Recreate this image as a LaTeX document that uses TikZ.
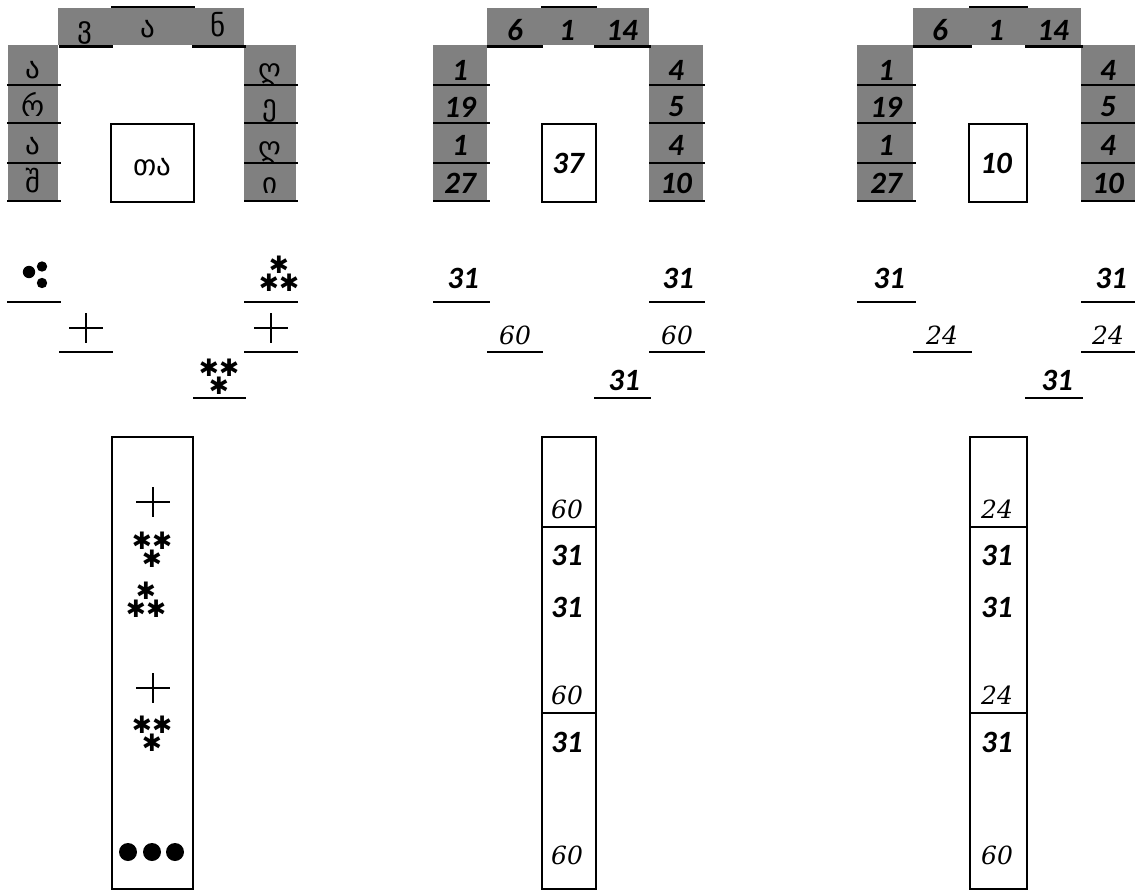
\documentclass[tikz,border=0pt]{standalone}
\usepackage{fontspec}
\newfontfamily\numf{Carlito}
\newfontfamily\serf{DejaVu Serif}
\newfontfamily\geo{DejaVu Sans}[AutoFakeSlant=0.2]
\newfontfamily\symf{DejaVu Sans}
\definecolor{bandgray}{RGB}{128,128,128}
\tikzset{
  band/.style={fill=bandgray,draw=none},
  uline/.style={line width=2.8pt},
  frame/.style={draw,line width=2.8pt},
  divider/.style={line width=2pt},
  num/.style={font=\numf\bfseries\itshape\fontsize{31}{31}\selectfont,inner sep=0pt},
  snum/.style={font=\serf\itshape\fontsize{25}{25}\selectfont,inner sep=0pt},
  geol/.style={font=\geo\fontsize{29}{29}\selectfont,inner sep=0pt,anchor=base},
  star/.style={font=\symf\fontsize{24}{18}\selectfont,inner sep=0pt,align=center},
  plusmark/.style={line width=2.6pt},
  dot/.style={fill=black,draw=none}
}
\begin{document}
\begin{tikzpicture}[x=1pt,y=-1pt]
\useasboundingbox (0,0) rectangle (1135,891);
% ================= PANEL 1 top =================
\fill[band] (58,8) rectangle (244,45);
\fill[band] (8,45) rectangle (58,201);
\fill[band] (244,45) rectangle (296,201);
\draw[uline] (111,7)--(195,7);
\draw[uline] (59,46.5)--(113,46.5);
\draw[uline] (192,46.5)--(246,46.5);
\foreach \y in {85,123,163,201}{\draw[uline] (7,\y)--(61,\y); \draw[uline] (244,\y)--(298,\y);}
\draw[frame] (111,124) rectangle (194,202);
\node[geol] (a1) at (85,38) {ვ};
\node[geol] (a2) at (148,38) {ა};
\node[geol] (a3) at (218,37) {ნ};
\node[geol] (l1) at (33,78) {ა};
\node[geol] (l2) at (33,116) {რ};
\node[geol] (l3) at (33,154) {ა};
\node[geol] (l4) at (33,192) {შ};
\node[geol] (r1) at (270,80) {ღ};
\node[geol] (r2) at (270,115) {ე};
\node[geol] (r3) at (270,157) {ღ};
\node[geol] (r4) at (270,193) {ი};
\node[geol] (c1) at (152,175) {თა};
% ================= PANEL 1 middle =================
\fill[dot] (29,272) circle (6.2);
\fill[dot] (42,266.5) circle (5.2);
\fill[dot] (42,283) circle (5.2);
\draw[uline] (7,302)--(61,302);
\draw[plusmark] (69,328)--(103,328) (86,313)--(86,343);
\draw[uline] (59,352)--(113,352);
\node[star] (s1) at (279,274) {✱\\✱✱};
\draw[uline] (244,302)--(298,302);
\draw[plusmark] (254,328)--(288,328) (271,313)--(271,343);
\draw[uline] (244,352)--(298,352);
\node[star] (s2) at (219,377) {✱✱\\✱};
\draw[uline] (193,398)--(246,398);
% ================= PANEL 1 bottom =================
\draw[frame] (112,437) rectangle (193,889);
\draw[plusmark] (136,502)--(170,502) (153,487)--(153,517);
\node[star] (b1) at (152,550) {✱✱\\✱};
\node[star] (b2) at (146,600) {✱\\✱✱};
\draw[plusmark] (136,688)--(170,688) (153,673)--(153,703);
\node[star] (b3) at (152,734) {✱✱\\✱};
\fill[dot] (128,852) circle (9);
\fill[dot] (152,852) circle (9);
\fill[dot] (175,852) circle (9);
% ================= PANEL 2 top =================
\fill[band] (487,8) rectangle (649,45);
\fill[band] (433,45) rectangle (487,201);
\fill[band] (649,45) rectangle (703,201);
\draw[uline] (541,7)--(597,7);
\draw[uline] (487,46.5)--(543,46.5);
\draw[uline] (594,46.5)--(651,46.5);
\foreach \y in {85,123,163,201}{\draw[uline] (433,\y)--(490,\y); \draw[uline] (649,\y)--(705,\y);}
\draw[frame] (542,124) rectangle (596,202);
\node[num] (p2t1) at (515,30) {6};
\node[num] (p2t2) at (567,30) {1};
\node[num] (p2t3) at (622,30) {14};
\node[num] (p2l1) at (460,70) {1};
\node[num] (p2l2) at (460,107) {19};
\node[num] (p2l3) at (460,145) {1};
\node[num] (p2l4) at (460,183) {27};
\node[num] (p2r1) at (676,70) {4};
\node[num] (p2r2) at (676,107) {5};
\node[num] (p2r3) at (676,145) {4};
\node[num] (p2r4) at (676,183) {10};
\node[num] (p2c) at (568,163) {37};
% ================= PANEL 2 middle =================
\node[num] (p2m1) at (463,278) {31};
\draw[uline] (433,302)--(490,302);
\node[snum] (p2m2) at (515,335) {60};
\draw[uline] (487,352)--(543,352);
\node[num] (p2m3) at (678,278) {31};
\draw[uline] (649,302)--(705,302);
\node[snum] (p2m4) at (677,335) {60};
\draw[uline] (649,352)--(705,352);
\node[num] (p2m5) at (624,380) {31};
\draw[uline] (594,398)--(651,398);
% ================= PANEL 2 bottom =================
\draw[frame] (542,437) rectangle (596,889);
\draw[divider] (542,527)--(596,527);
\draw[divider] (542,713)--(596,713);
\node[snum,anchor=west] (p2b1) at (551,509) {60};
\node[num,anchor=west] (p2b2) at (551,555) {31};
\node[num,anchor=west] (p2b3) at (551,607) {31};
\node[snum,anchor=west] (p2b4) at (551,695) {60};
\node[num,anchor=west] (p2b5) at (551,742) {31};
\node[snum,anchor=west] (p2b6) at (551,855) {60};
% ================= PANEL 3 top =================
\fill[band] (913,8) rectangle (1081,45);
\fill[band] (857,45) rectangle (913,201);
\fill[band] (1081,45) rectangle (1135,201);
\draw[uline] (969,7)--(1028,7);
\draw[uline] (913,46.5)--(972,46.5);
\draw[uline] (1025,46.5)--(1083,46.5);
\foreach \y in {85,123,163,201}{\draw[uline] (857,\y)--(916,\y); \draw[uline] (1081,\y)--(1135,\y);}
\draw[frame] (969,124) rectangle (1027,202);
\node[num] (p3t1) at (940,30) {6};
\node[num] (p3t2) at (996,30) {1};
\node[num] (p3t3) at (1053,30) {14};
\node[num] (p3l1) at (886,70) {1};
\node[num] (p3l2) at (886,107) {19};
\node[num] (p3l3) at (886,145) {1};
\node[num] (p3l4) at (886,183) {27};
\node[num] (p3r1) at (1108,70) {4};
\node[num] (p3r2) at (1108,107) {5};
\node[num] (p3r3) at (1108,145) {4};
\node[num] (p3r4) at (1108,183) {10};
\node[num] (p3c) at (996,163) {10};
% ================= PANEL 3 middle =================
\node[num] (p3m1) at (889,278) {31};
\draw[uline] (857,302)--(916,302);
\node[snum] (p3m2) at (942,335) {24};
\draw[uline] (913,352)--(972,352);
\node[num] (p3m3) at (1111,278) {31};
\draw[uline] (1081,302)--(1135,302);
\node[snum] (p3m4) at (1108,335) {24};
\draw[uline] (1081,352)--(1135,352);
\node[num] (p3m5) at (1057,380) {31};
\draw[uline] (1025,398)--(1083,398);
% ================= PANEL 3 bottom =================
\draw[frame] (970,437) rectangle (1027,889);
\draw[divider] (970,527)--(1027,527);
\draw[divider] (970,713)--(1027,713);
\node[snum,anchor=west] (p3b1) at (981,509) {24};
\node[num,anchor=west] (p3b2) at (981,555) {31};
\node[num,anchor=west] (p3b3) at (981,607) {31};
\node[snum,anchor=west] (p3b4) at (981,695) {24};
\node[num,anchor=west] (p3b5) at (981,742) {31};
\node[snum,anchor=west] (p3b6) at (981,855) {60};
\end{tikzpicture}
\end{document}
